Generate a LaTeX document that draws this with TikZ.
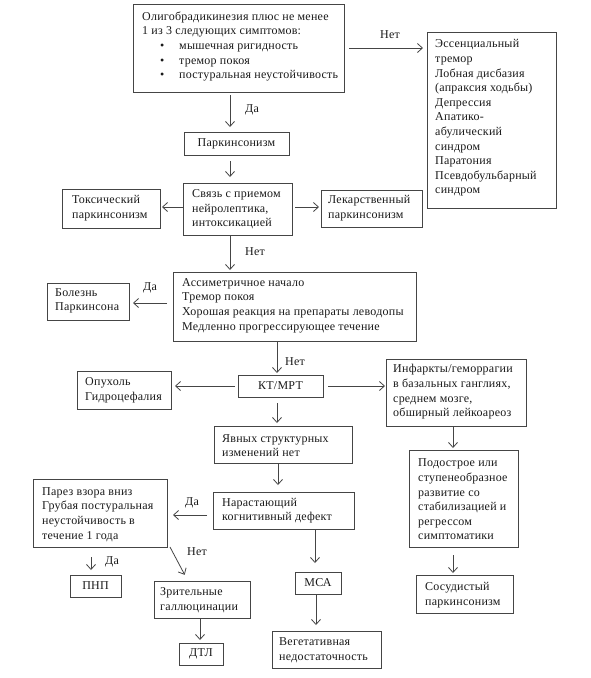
\documentclass[tikz,border=0pt]{standalone}
\usepackage{fontspec}
\setmainfont{Liberation Serif}[LetterSpace=2]
\usetikzlibrary{arrows.meta}
\definecolor{lc}{HTML}{454545}
\definecolor{tc}{HTML}{1A1A1A}
\newcommand\bx[5]{\node[box, minimum width={(#4-#2)*1pt}, minimum height={(#5-#3)*1pt}] (#1) at ({(#2+#4)/2},{(#3+#5)/2}) {};}
\newcommand\bxt[6]{\node[box, text=tc, minimum width={(#4-#2)*1pt}, minimum height={(#5-#3)*1pt}] (#1) at ({(#2+#4)/2},{(#3+#5)/2}) {#6};}
\newcommand\bul{\hspace*{18pt}\makebox[19pt][l]{•}}
\begin{document}
\begin{tikzpicture}[x=1pt,y=-1pt, font=\fontsize{12}{14.6}\selectfont,
 box/.style={draw=lc, line width=0.8pt, inner sep=0pt, outer sep=0pt},
 lbl/.style={anchor=west, align=left, inner sep=0pt, text=tc},
 arr/.style={draw=lc, line width=0.8pt, -{Straight Barb[length=5pt,width=9pt]}},
 lab/.style={inner sep=0pt, text=tc}]
\fill[white] (0,0) rectangle (591,678);
\useasboundingbox (0,0) rectangle (591,678);
% boxes
\bx{top}{133}{4}{344}{92}
\node[lbl] (topt) at (142,46.5) {Олигобрадикинезия плюс не менее\\1 из 3 следующих симптомов:\\\bul мышечная ригидность\\\bul тремор покоя\\\bul постуральная неустойчивость};
\bx{ess}{427}{32}{556}{208}
\node[lbl] (esst) at (435,118) {Эссенциальный\\тремор\\Лобная дисбазия\\(апраксия ходьбы)\\Депрессия\\Апатико-\\абулический\\синдром\\Паратония\\Псевдобульбарный\\синдром};
\bxt{park}{184}{132}{289}{155}{Паркинсонизм}
\bx{svyaz}{183}{183}{292}{235}
\node[lbl] (svyazt) at (192,209.5) {Связь с приемом\\нейролептика,\\интоксикацией};
\bx{tox}{62}{189}{160}{228}
\node[lbl] (toxt) at (72,208) {Токсический\\паркинсонизм};
\bx{lek}{321}{190}{422}{227}
\node[lbl] (lekt) at (328,208) {Лекарственный\\паркинсонизм};
\bx{asym}{173}{272}{416}{341}
\node[lbl] (asymt) at (182,305.5) {Ассиметричное начало\\Тремор покоя\\Хорошая реакция на препараты леводопы\\Медленно прогрессирующее течение};
\bx{bolezn}{47}{283}{129}{320}
\node[lbl] (boleznt) at (55,301) {Болезнь\\Паркинсона};
\bxt{kt}{238}{375}{323}{397}{КТ/МРТ}
\bx{opuh}{77}{371}{171}{409}
\node[lbl] (opuht) at (85,390.5) {Опухоль\\Гидроцефалия};
\bx{infark}{386}{359}{526}{426}
\node[lbl] (infarkt) at (393,392) {Инфаркты/геморрагии\\в базальных ганглиях,\\среднем мозге,\\обширный лейкоареоз};
\bx{yavn}{214}{426}{352}{463}
\node[lbl] (yavnt) at (222,445.5) {Явных структурных\\изменений нет};
\bx{podos}{409}{450}{518}{547}
\node[lbl] (podost) at (418,499.5) {Подострое или\\ступенеобразное\\развитие со\\стабилизацией и\\регрессом\\симптоматики};
\bx{sosud}{416}{575}{513}{613}
\node[lbl] (sosudt) at (425,595) {Сосудистый\\паркинсонизм};
\bx{narast}{213}{492}{354}{529}
\node[lbl] (narastt) at (222,510.5) {Нарастающий\\когнитивный дефект};
\bx{parez}{33}{479}{167}{547}
\node[lbl] (parezt) at (42,514.5) {Парез взора вниз\\Грубая постуральная\\неустойчивость в\\течение 1 года};
\bxt{pnp}{70}{575}{121}{597}{ПНП}
\bx{zrit}{154}{581}{250}{618}
\node[lbl] (zritt) at (160,600) {Зрительные\\галлюцинации};
\bxt{dtl}{179}{643}{223}{665}{ДТЛ}
\bxt{msa}{295}{572}{341}{594}{МСА}
\bx{veget}{272}{631}{381}{668}
\node[lbl] (vegett) at (279,650) {Вегетативная\\недостаточность};
% connectors
\draw[arr, shorten <=5pt, shorten >=4pt] (top.east |- 0,48) -- (ess.west |- 0,48);
\node[lab] (l1) at (390,35) {Нет};
\draw[arr, shorten <=3pt, shorten >=5pt] (230,0 |- top.south) -- (230,0 |- park.north);
\node[lab] (l2) at (252,110) {Да};
\draw[arr, shorten <=6pt, shorten >=6pt] (230,0 |- park.south) -- (230,0 |- svyaz.north);
\draw[arr, shorten >=2pt] (svyaz.west |- 0,207) -- (tox.east |- 0,207);
\draw[arr, shorten <=3pt, shorten >=2pt] (svyaz.east |- 0,207) -- (lek.west |- 0,207);
\draw[arr, shorten >=2pt] (230,0 |- svyaz.south) -- (230,0 |- asym.north);
\node[lab] (l3) at (255,252) {Нет};
\draw[arr, shorten <=6pt, shorten >=4pt] (asym.west |- 0,303) -- (bolezn.east |- 0,303);
\node[lab] (l4) at (150,288) {Да};
\draw[arr, shorten >=2pt] (277,0 |- asym.south) -- (277,0 |- kt.north);
\node[lab] (l5) at (295,362) {Нет};
\draw[arr, shorten <=3pt, shorten >=4pt] (kt.west |- 0,386) -- (opuh.east |- 0,386);
\draw[arr, shorten <=5pt, shorten >=1pt] (kt.east |- 0,386) -- (infark.west |- 0,386);
\draw[arr, shorten <=6pt, shorten >=3pt] (277,0 |- kt.south) -- (277,0 |- yavn.north);
\draw[arr, shorten >=2pt] (453,0 |- infark.south) -- (453,0 |- podos.north);
\draw[arr, shorten >=7pt] (278,0 |- yavn.south) -- (278,0 |- narast.north);
\draw[arr, shorten <=6pt, shorten >=6pt] (narast.west |- 0,515) -- (parez.east |- 0,515);
\node[lab] (l6) at (192,503) {Да};
\draw[arr, shorten <=10pt, shorten >=5pt] (91,0 |- parez.south) -- (91,0 |- pnp.north);
\node[lab] (l7) at (112,562) {Да};
\draw[arr, shorten >=7pt] (170,0 |- parez.south) -- (188,0 |- zrit.north);
\node[lab] (l8) at (197,552) {Нет};
\draw[arr, shorten >=3pt] (200,0 |- zrit.south) -- (200,0 |- dtl.north);
\draw[arr, shorten >=9pt] (315,0 |- narast.south) -- (315,0 |- msa.north);
\draw[arr, shorten >=6pt] (316,0 |- msa.south) -- (316,0 |- veget.north);
\draw[arr, shorten <=8pt, shorten >=2pt] (453,0 |- podos.south) -- (453,0 |- sosud.north);
\end{tikzpicture}
\end{document}
